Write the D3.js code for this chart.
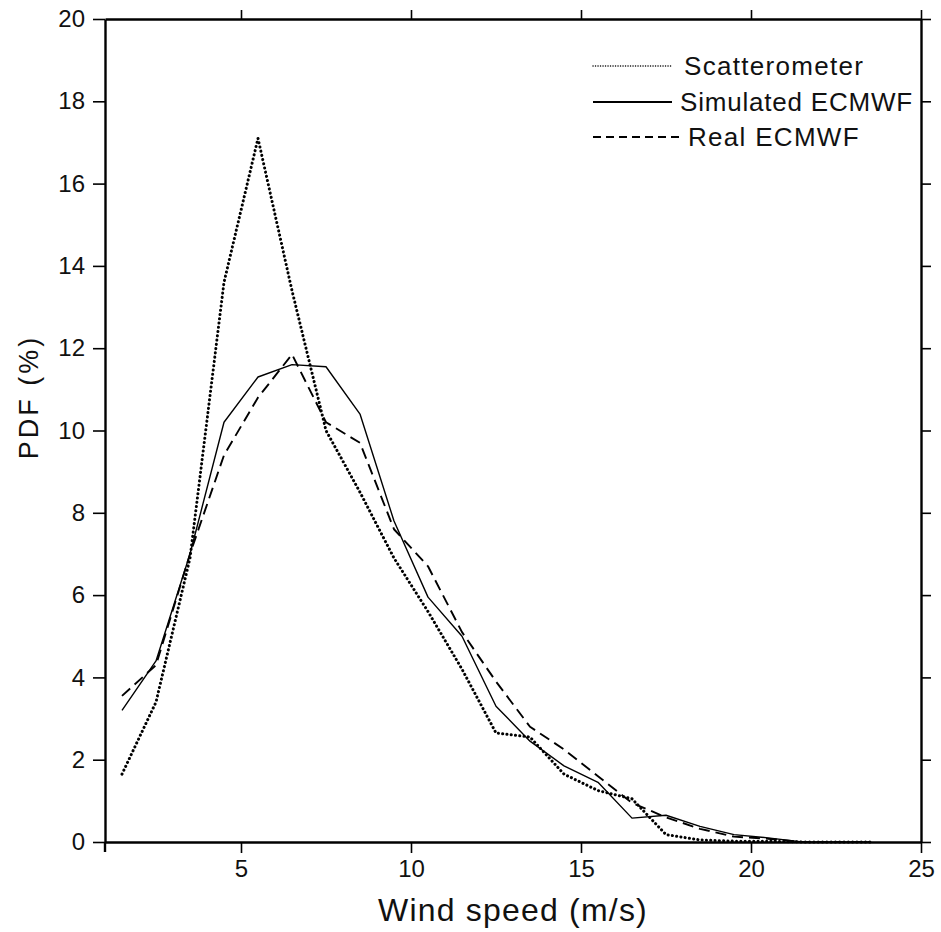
<!DOCTYPE html>
<html><head><meta charset="utf-8">
<script src="https://cdn.jsdelivr.net/npm/d3@7"></script>
<style>body{margin:0;background:#fff}</style>
</head><body>
<svg id="c" width="941" height="932"></svg>
<script>
const windSpeed = [1.5,2.5,3.5,4.5,5.5,6.5,7.5,8.5,9.5,10.5,11.5,12.5,13.5,14.5,15.5,16.5,17.5,18.5,19.5,20.5,21.5,22.5,23.5];
const scatterometer = [1.65,3.4,6.9,13.6,17.1,13.4,10.0,8.5,6.9,5.6,4.2,2.65,2.55,1.65,1.25,1.05,0.18,0.05,0.02,0.02,0,0,0];
const simulatedECMWF = [3.2,4.4,7.0,10.2,11.3,11.6,11.55,10.4,7.8,5.95,5.0,3.3,2.45,1.85,1.45,0.58,0.65,0.38,0.18,0.1,0,0,0];
const realECMWF = [3.55,4.3,7.0,9.4,10.8,11.85,10.2,9.7,7.6,6.7,5.1,3.9,2.8,2.25,1.6,0.95,0.6,0.32,0.13,0.08,0,0,0];
const xTicks = [5,10,15,20,25];
const yTicks = [0,2,4,6,8,10,12,14,16,18,20];
const seriesNames = ["Scatterometer","Simulated ECMWF","Real ECMWF"];

const svg = d3.select("#c");
const m = {l:105, r:20, t:19, b:90};
const W = 941, H = 932;
const x = d3.scaleLinear().domain([1,25]).range([m.l, W-m.r]);
const y = d3.scaleLinear().domain([0,20]).range([H-m.b, m.t]);
const font = "'Liberation Sans', Arial, sans-serif";

// axes
const gb = svg.append("g").attr("transform",`translate(0,${y(0)})`)
  .call(d3.axisBottom(x).tickValues(xTicks).tickSize(11).tickPadding(7).tickSizeOuter(0));
const gt = svg.append("g").attr("transform",`translate(0,${y(20)})`)
  .call(d3.axisTop(x).tickValues(xTicks).tickSize(9).tickFormat("").tickSizeOuter(0));
const gl = svg.append("g").attr("transform",`translate(${x(1)},0)`)
  .call(d3.axisLeft(y).tickValues(yTicks).tickSize(12).tickPadding(8).tickSizeOuter(0));
const gr = svg.append("g").attr("transform",`translate(${x(25)},0)`)
  .call(d3.axisRight(y).tickValues(yTicks).tickSize(10).tickFormat("").tickSizeOuter(0));
[gb,gt,gl,gr].forEach(g=>{
  g.select(".domain").attr("stroke","#000").attr("stroke-width",2.4);
  g.selectAll(".tick line").attr("stroke","#000").attr("stroke-width",1.6);
  g.selectAll(".tick text").attr("font-family",font).attr("font-size",24).attr("fill","#111");
});
// extend left axis below bottom slightly
svg.append("line").attr("x1",x(1)).attr("x2",x(1)).attr("y1",y(0)).attr("y2",y(0)+10).attr("stroke","#000").attr("stroke-width",2.4);

// axis titles
svg.append("text").attr("x",(x(1)+x(25))/2).attr("y",921).attr("text-anchor","middle")
  .attr("font-family",font).attr("font-size",32).attr("letter-spacing",1.2).attr("fill","#111").text("Wind speed (m/s)");
svg.append("text").attr("transform",`translate(38,397) rotate(-90)`)
  .attr("text-anchor","middle").attr("font-family",font).attr("font-size",27)
  .attr("letter-spacing",3).attr("fill","#111").text("PDF (%)");

// lines
const styles = [
  {data:scatterometer, w:3, dash:"0.1,4.2", cap:"round"},
  {data:simulatedECMWF, w:1.4, dash:null, cap:"butt"},
  {data:realECMWF, w:1.9, dash:"11,6", cap:"butt"}
];
const line = d3.line().x(d=>x(d[0])).y(d=>y(d[1]));
styles.forEach(s=>{
  svg.append("path").datum(windSpeed.map((w,i)=>[w,s.data[i]]))
    .attr("d",line).attr("fill","none").attr("stroke","#000")
    .attr("stroke-width",s.w).attr("stroke-dasharray",s.dash).attr("stroke-linecap",s.cap)
    .attr("stroke-linejoin","round");
});

// legend
const leg = [
  {y:66, w:1.4, dash:"0.1,2.4", cap:"round", tx:684, x2:672, ls:1.3},
  {y:102, w:2.2, dash:null, cap:"butt", tx:680, x2:672, ls:0.8},
  {y:137, w:1.8, dash:"8,5", cap:"butt", tx:688, x2:680, ls:1.3}
];
leg.forEach((l,i)=>{
  svg.append("line").attr("x1",593).attr("x2",l.x2).attr("y1",l.y).attr("y2",l.y)
    .attr("stroke","#000").attr("stroke-width",l.w).attr("stroke-dasharray",l.dash).attr("stroke-linecap",l.cap);
  svg.append("text").attr("x",l.tx).attr("y",l.y+9).attr("font-family",font).attr("font-size",26)
    .attr("letter-spacing",l.ls).attr("fill","#111").text(seriesNames[i]);
});
</script>
</body></html>
